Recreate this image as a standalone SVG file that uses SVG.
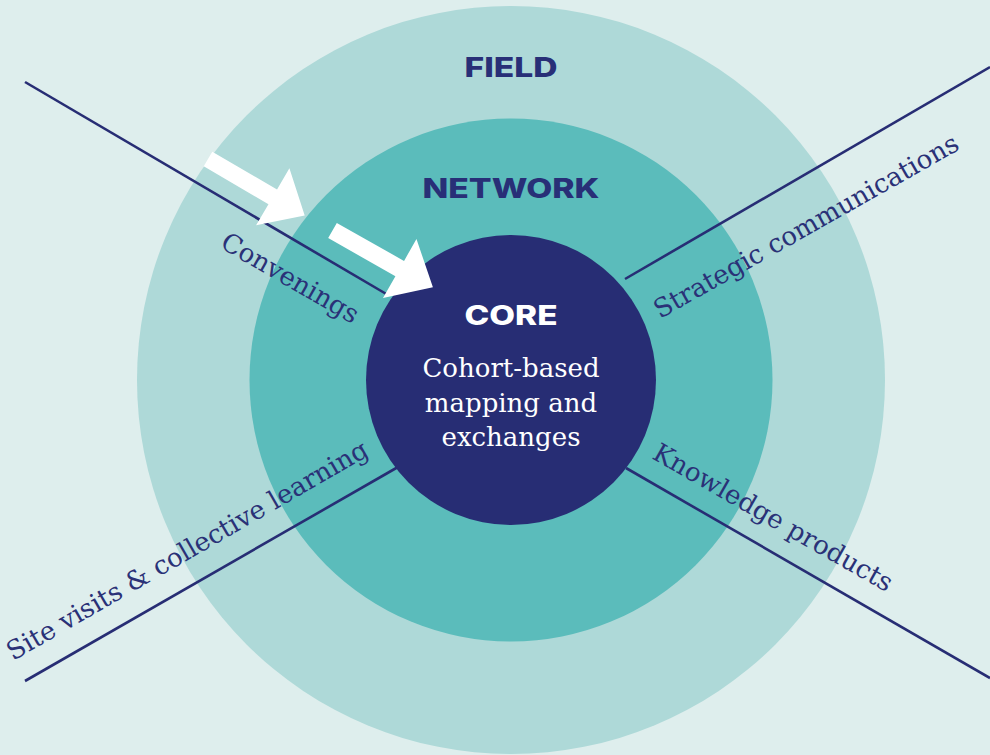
<svg xmlns="http://www.w3.org/2000/svg" xmlns:xlink="http://www.w3.org/1999/xlink" width="990" height="755" viewBox="0 0 990 755">
  <defs>
    <style>
      .bg { fill: #deeeed; }
      .ring-field { fill: #aed9d8; }
      .ring-network { fill: #5bbcbb; }
      .ring-core { fill: #272d74; }
      .spoke { stroke: #272d74; stroke-width: 2.6; fill: none; }
      .head { font-family: Inter, "Open Sans", "Liberation Sans", sans-serif; font-weight: 800; font-size: 27px; text-anchor: middle; fill: #282f77; }
      .head-core { fill: #ffffff; }
      .body { font-family: "DejaVu Serif", "Liberation Serif", serif; font-size: 26px; fill: #ffffff; text-anchor: middle; }
      .label { font-family: "DejaVu Serif", "Liberation Serif", serif; font-size: 26px; fill: #2a3177; }
      .arrow { fill: #ffffff; }
    </style>
    <path id="block-arrow" d="M0,-8.5 L75,-8.5 L75,-33 L112,0 L75,33 L75,8.5 L0,8.5 Z"/>
  </defs>

  <rect class="bg" x="0" y="0" width="990" height="755"/>

  <g id="field">
    <circle class="ring-field" cx="511" cy="380" r="374"/>
    <text class="head" x="511" y="77" textLength="93" lengthAdjust="spacingAndGlyphs">FIELD</text>
  </g>

  <g id="network">
    <circle class="ring-network" cx="511" cy="380" r="261.5"/>
    <text class="head" x="511" y="198" textLength="177" lengthAdjust="spacingAndGlyphs">NETWORK</text>
  </g>

  <g id="connectors">
    <line class="spoke" x1="25" y1="82" x2="388" y2="295"/>
    <line class="spoke" x1="625" y1="279" x2="990" y2="67"/>
    <line class="spoke" x1="25" y1="681" x2="398" y2="467"/>
    <line class="spoke" x1="626" y1="468" x2="990" y2="678"/>
  </g>

  <g id="core">
    <circle class="ring-core" cx="511" cy="380" r="145"/>
    <text class="head head-core" x="511" y="325" textLength="93" lengthAdjust="spacingAndGlyphs">CORE</text>
    <text class="body" x="511" y="377">Cohort-based</text>
    <text class="body" x="511" y="412">mapping and</text>
    <text class="body" x="511" y="446">exchanges</text>
  </g>

  <g id="convenings">
    <text class="label" transform="translate(219,247) rotate(30)">Convenings</text>
  </g>

  <g id="strategic-communications">
    <text class="label" transform="translate(660,319) rotate(-29.5)">Strategic communications</text>
  </g>

  <g id="site-visits">
    <text class="label" transform="translate(13,661) rotate(-30)">Site visits &amp; collective learning</text>
  </g>

  <g id="knowledge-products">
    <text class="label" transform="translate(651,458) rotate(29.7)">Knowledge products</text>
  </g>

  <g id="arrows">
    <use class="arrow" xlink:href="#block-arrow" transform="translate(208,159) rotate(30.3)"/>
    <use class="arrow" xlink:href="#block-arrow" transform="translate(332.5,230.5) rotate(29.5) scale(1.03)"/>
  </g>
</svg>
